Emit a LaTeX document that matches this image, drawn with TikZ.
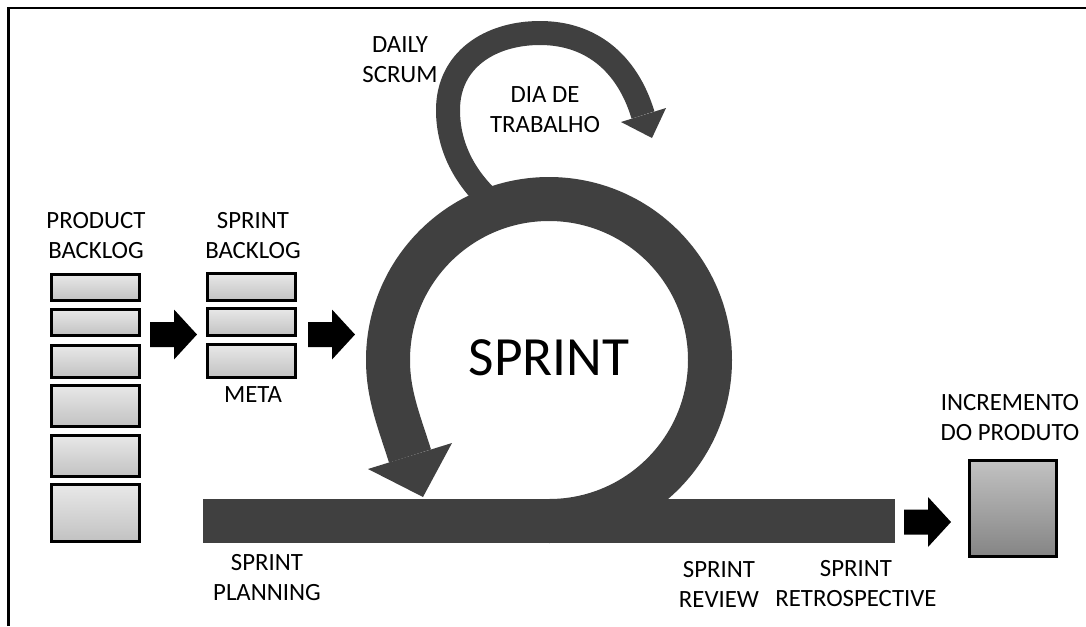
\documentclass[tikz,border=0pt]{standalone}
\usepackage{fontspec}
\setmainfont{Carlito}
\definecolor{ringgray}{HTML}{404040}
\tikzset{
  label/.style={inner sep=0pt, align=center, text=black,
    font=\fontsize{18.6pt}{22.5pt}\selectfont},
  item/.style={draw=black, line width=2.25pt, inner sep=0pt,
    minimum width=66pt, top color=black!9, bottom color=black!24},
  increment/.style={draw=black, line width=2.25pt, inner sep=0pt,
    minimum width=65.25pt, minimum height=72pt,
    top color=black!24, middle color=black!45, bottom color=black!48},
  ring/.style={draw=ringgray, line cap=butt, line join=round},
  blockarrow/.pic={
    \fill[black] (0,-12.5) -- (24,-12.5) -- (24,-25) -- (47,0)
      -- (24,25) -- (24,12.5) -- (0,12.5) -- cycle;
  }
}
\begin{document}
\begin{tikzpicture}[x=0.75pt,y=-0.75pt]
\useasboundingbox (0,0) rectangle (1086,626);

% frame
\draw[line width=1.8pt, black] (8.5,626) -- (8.5,8) -- (1086,8);

% product backlog items
\node[item, minimum height=19.5pt] (pb1) at (95.5,287.5) {};
\node[item, minimum height=19.5pt] (pb2) at (95.5,322.5) {};
\node[item, minimum height=24pt]   (pb3) at (95.5,361.5) {};
\node[item, minimum height=30.75pt] (pb4) at (95.5,406) {};
\node[item, minimum height=30.75pt] (pb5) at (95.5,456) {};
\node[item, minimum height=42.75pt] (pb6) at (95.5,513) {};
\node[label] (pbl) at (96,235.5) {PRODUCT\\BACKLOG};

% sprint backlog items
\node[item, minimum height=20.25pt] (sb1) at (251.5,287) {};
\node[item, minimum height=20.25pt] (sb2) at (251.5,322) {};
\node[item, minimum height=24.75pt] (sb3) at (251.5,361) {};
\node[label] (sbl) at (253,235.5) {SPRINT\\BACKLOG};
\node[label] (meta) at (253,395) {META};

% flow arrows
\coordinate (a1) at (150,334.5);
\coordinate (a2) at (308,334.5);
\coordinate (a3) at (904,522);
\pic at (a1) {blockarrow};
\pic at (a2) {blockarrow};
\pic at (a3) {blockarrow};

% sprint bar
\fill[ringgray] (203,499) rectangle (895,543);

% sprint loop
\draw[ring, line width=33pt]
  (549,521) arc[start angle=90, end angle=-180, radius=161]
  .. controls (388,395) and (399,421) .. (410,456);
\fill[ringgray] (368,469) -- (423,497) -- (452,443) -- cycle;

% daily loop
\draw[ring, line width=18pt]
  (495,205) .. controls (468,182) and (448,150) .. (448,110)
  .. controls (448,60) and (490,33) .. (540,33)
  .. controls (590,33) and (627,62) .. (643,115);
\fill[ringgray] (621,122) -- (652,138) -- (666,108) -- cycle;

\node[font=\fontsize{41.5pt}{48pt}\selectfont, inner sep=0pt] (sprint) at (549,357.5) {SPRINT};
\node[label] (daily) at (400,59.5) {DAILY\\SCRUM};
\node[label] (dia) at (545,109.5) {DIA DE\\TRABALHO};
\node[label] (plan) at (267,577.5) {SPRINT\\PLANNING};
\node[label] (review) at (719,584) {SPRINT\\REVIEW};
\node[label] (retro) at (856,584) {SPRINT\\RETROSPECTIVE};

% product increment
\node[increment] (inc) at (1013,508.5) {};
\node[label] (incl) at (1010,418) {INCREMENTO\\DO PRODUTO};
\end{tikzpicture}
\end{document}
